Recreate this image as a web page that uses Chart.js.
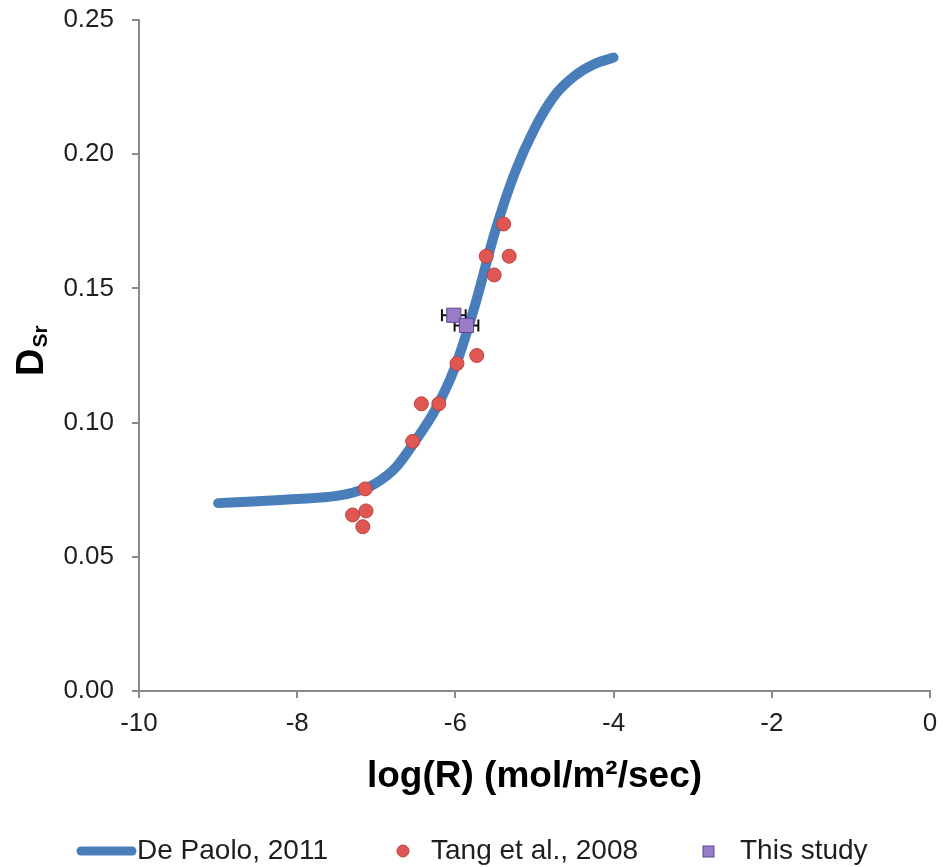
<!DOCTYPE html>
<html><head><meta charset="utf-8">
<script src="https://cdn.jsdelivr.net/npm/chart.js@4.4.1/dist/chart.umd.min.js"></script>
<style>html,body{margin:0;padding:0;background:#fff;}#wrap{width:943px;height:867px;}</style>
</head><body><div id="wrap"><canvas id="c" width="943" height="867"></canvas></div>
<script>
// ---- data ----
const seriesLabels = ['De Paolo, 2011', 'Tang et al., 2008', 'This study'];
const curveX = [-9, -8.5, -8, -7.5, -7.25, -7, -6.75, -6.5, -6.25, -6, -5.75, -5.5, -5.25, -5, -4.75, -4.5, -4.25, -4];
const curveY = [0.070, 0.0707, 0.0715, 0.0727, 0.0743, 0.0775, 0.0834, 0.0935, 0.105, 0.121, 0.144, 0.171, 0.193, 0.2095, 0.2217, 0.229, 0.2335, 0.236];
const tangX = [-5.39, -5.61, -5.32, -5.51, -5.73, -5.98, -6.43, -6.21, -6.54, -7.14, -7.13, -7.30, -7.17];
const tangY = [0.174, 0.162, 0.162, 0.155, 0.125, 0.122, 0.107, 0.107, 0.093, 0.0753, 0.0671, 0.0656, 0.0612];
const studyX = [-6.02, -5.86];
const studyY = [0.140, 0.1362];
const studyXErr = [0.15, 0.15];
const xTickValues = [-10, -8, -6, -4, -2, 0];
const yTickValues = [0, 0.05, 0.10, 0.15, 0.20, 0.25];
const xTitle = 'log(R) (mol/m\u00B2/sec)';
const yTitleMain = 'D';
const yTitleSub = 'Sr';

const FONT = "'Liberation Sans', Arial, sans-serif";
const COLORS = { line: '#4A7EBB', red: '#DE5753', redBorder: '#B9423F', purple: '#9A7BC7', purpleBorder: '#5F4690', axis: '#8A8A8A', text: '#1E1E1E' };

const toPts = (xs, ys) => xs.map((x, i) => ({ x: x, y: ys[i] }));

// error bars for "This study"
const errorBarPlugin = {
  id: 'errorBars',
  beforeDatasetDraw(chart, args) {
    if (args.index !== 2) return;
    const { ctx, scales: { x, y } } = chart;
    ctx.save();
    ctx.strokeStyle = '#111';
    ctx.lineWidth = 2;
    studyX.forEach((v, i) => {
      const py = y.getPixelForValue(studyY[i]);
      const x0 = x.getPixelForValue(v - studyXErr[i]);
      const x1 = x.getPixelForValue(v + studyXErr[i]);
      ctx.beginPath();
      ctx.moveTo(x0, py); ctx.lineTo(x1, py);
      ctx.moveTo(x0, py - 6); ctx.lineTo(x0, py + 6);
      ctx.moveTo(x1, py - 6); ctx.lineTo(x1, py + 6);
      ctx.stroke();
    });
    ctx.restore();
  }
};

// y-axis title with subscript
const yTitlePlugin = {
  id: 'yTitle',
  afterDraw(chart) {
    const ctx = chart.ctx;
    ctx.save();
    ctx.fillStyle = '#000';
    ctx.translate(43, 376);
    ctx.rotate(-Math.PI / 2);
    ctx.textAlign = 'left';
    ctx.textBaseline = 'alphabetic';
    ctx.font = 'bold 38px ' + FONT;
    ctx.fillText(yTitleMain, 0, 0);
    const w = ctx.measureText(yTitleMain).width;
    ctx.font = 'bold 21px ' + FONT;
    ctx.fillText(yTitleSub, w + 1, 4);
    ctx.restore();
  }
};

// bottom legend
const legendPlugin = {
  id: 'bottomLegend',
  afterDraw(chart) {
    const ctx = chart.ctx;
    const ds = chart.data.datasets;
    const cy = 851;
    ctx.save();
    ctx.font = '28px ' + FONT;
    ctx.textBaseline = 'middle';
    ctx.textAlign = 'left';
    // line item
    ctx.strokeStyle = ds[0].borderColor;
    ctx.lineWidth = 9;
    ctx.lineCap = 'round';
    ctx.beginPath(); ctx.moveTo(81, cy); ctx.lineTo(132, cy); ctx.stroke();
    ctx.fillStyle = COLORS.text;
    ctx.fillText(ds[0].label, 137, cy);
    // circle item
    ctx.beginPath(); ctx.arc(403, cy, 6, 0, Math.PI * 2);
    ctx.fillStyle = ds[1].backgroundColor; ctx.fill();
    ctx.lineWidth = 1; ctx.strokeStyle = ds[1].borderColor; ctx.stroke();
    ctx.fillStyle = COLORS.text;
    ctx.fillText(ds[1].label, 431, cy);
    // square item
    ctx.fillStyle = ds[2].backgroundColor;
    ctx.fillRect(703, cy - 5, 11, 11);
    ctx.strokeStyle = ds[2].borderColor; ctx.lineWidth = 1;
    ctx.strokeRect(703, cy - 5, 11, 11);
    ctx.fillStyle = COLORS.text;
    ctx.fillText(ds[2].label, 740, cy);
    ctx.restore();
  }
};

Chart.defaults.font.family = FONT;
Chart.defaults.color = COLORS.text;

new Chart(document.getElementById('c'), {
  type: 'scatter',
  data: {
    datasets: [
      {
        label: seriesLabels[0],
        data: toPts(curveX, curveY),
        showLine: true,
        borderColor: COLORS.line,
        backgroundColor: COLORS.line,
        borderWidth: 10,
        borderCapStyle: 'round',
        borderJoinStyle: 'round',
        cubicInterpolationMode: 'monotone',
        pointRadius: 0,
        order: 3
      },
      {
        label: seriesLabels[1],
        data: toPts(tangX, tangY),
        backgroundColor: COLORS.red,
        borderColor: COLORS.redBorder,
        borderWidth: 1,
        pointRadius: 7,
        order: 2
      },
      {
        label: seriesLabels[2],
        data: toPts(studyX, studyY),
        pointStyle: 'rect',
        backgroundColor: COLORS.purple,
        borderColor: COLORS.purpleBorder,
        borderWidth: 1,
        pointRadius: 10,
        order: 1
      }
    ]
  },
  options: {
    responsive: false,
    animation: false,
    devicePixelRatio: 1,
    layout: { padding: { left: 0, right: 13, top: 20, bottom: 55 } },
    plugins: { legend: { display: false }, tooltip: { enabled: false } },
    scales: {
      x: {
        type: 'linear',
        min: xTickValues[0],
        max: xTickValues[xTickValues.length - 1],
        afterBuildTicks(scale) { scale.ticks = xTickValues.map(v => ({ value: v })); },
        ticks: { font: { size: 26 }, color: COLORS.text, padding: 10, maxRotation: 0, callback: v => String(v) },
        grid: { display: true, drawOnChartArea: false, drawTicks: true, tickLength: 7, color: COLORS.axis, lineWidth: 2 },
        border: { display: true, color: COLORS.axis, width: 2 },
        title: { display: true, text: xTitle, font: { size: 37, weight: 'bold' }, color: '#000', padding: { top: 0, bottom: 13 } },
        afterFit(scale) { scale.height = 121; scale.paddingLeft = 0; scale.paddingRight = 0; }
      },
      y: {
        type: 'linear',
        min: yTickValues[0],
        max: yTickValues[yTickValues.length - 1],
        afterBuildTicks(scale) { scale.ticks = yTickValues.map(v => ({ value: v })); },
        ticks: { font: { size: 26 }, color: COLORS.text, padding: 18, callback: v => v.toFixed(2) },
        grid: { display: true, drawOnChartArea: false, drawTicks: true, tickLength: 7, color: COLORS.axis, lineWidth: 2 },
        border: { display: true, color: COLORS.axis, width: 2 },
        title: { display: false },
        afterFit(scale) { scale.width = 139; scale.paddingTop = 0; scale.paddingBottom = 0; }
      }
    }
  },
  plugins: [errorBarPlugin, yTitlePlugin, legendPlugin]
});
</script></body></html>
